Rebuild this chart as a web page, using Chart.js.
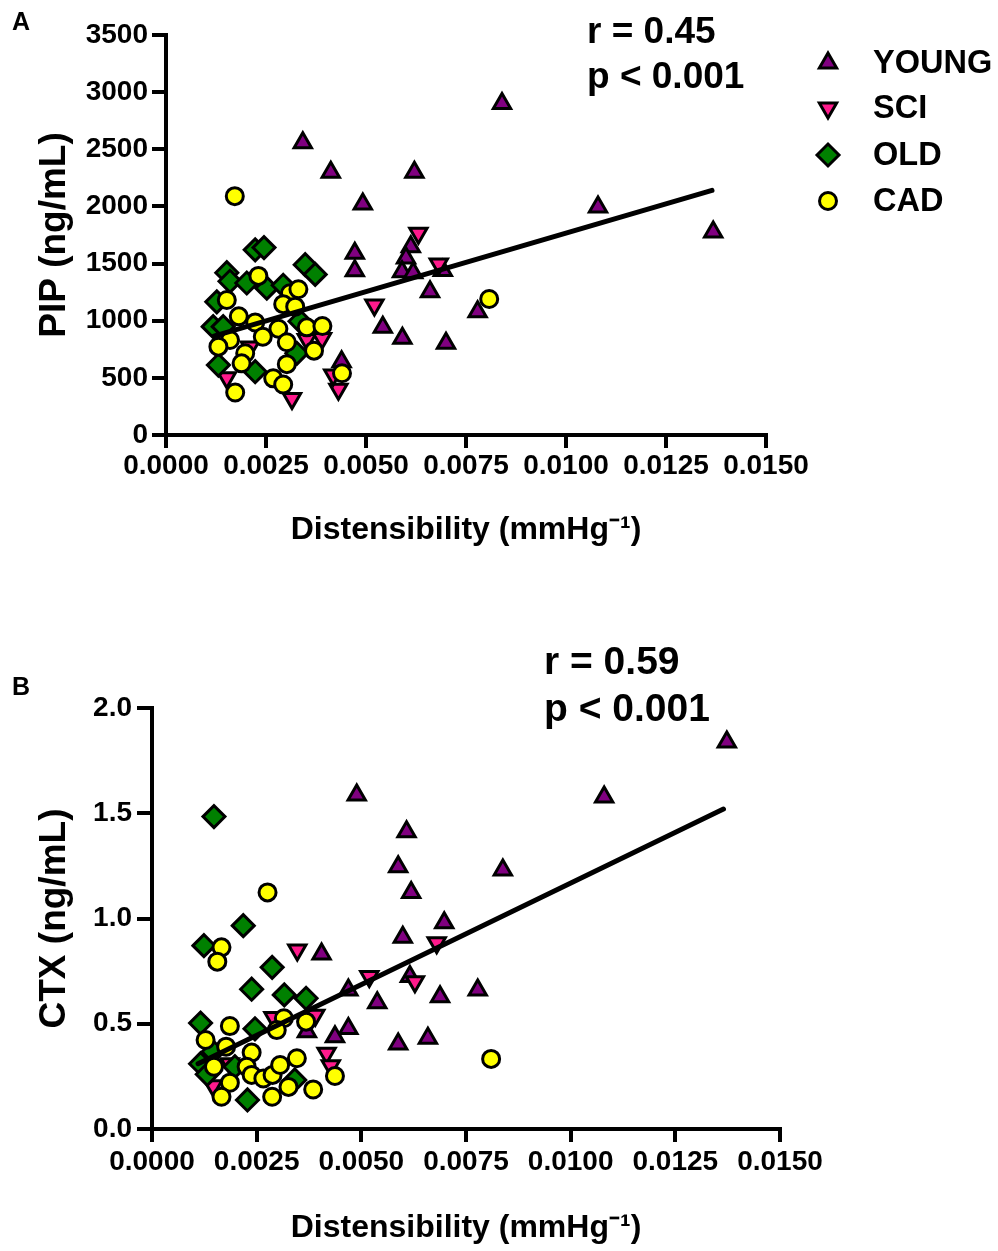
<!DOCTYPE html>
<html><head><meta charset="utf-8">
<script src="https://cdn.jsdelivr.net/npm/chart.js@4.4.1/dist/chart.umd.min.js"></script>
<style>
html,body{margin:0;padding:0;background:#fff;}
#wrap{position:relative;width:998px;height:1251px;overflow:hidden;background:#fff;}
canvas{position:absolute;left:0;}
#cA{top:0;}
#cB{top:620px;}
</style></head><body>
<div id="wrap"><canvas id="cA" width="998" height="600"></canvas><canvas id="cB" width="998" height="631"></canvas></div>
<script>
// ---------------- DATA ----------------
const groupNames = ['YOUNG', 'SCI', 'OLD', 'CAD'];
const distTicks = [0, 0.0025, 0.005, 0.0075, 0.01, 0.0125, 0.015];
const pipTicks = [0, 500, 1000, 1500, 2000, 2500, 3000, 3500];
const ctxTicks = [0, 0.5, 1.0, 1.5, 2.0];
const xTitleText = 'Distensibility (mmHg\u207B\u00B9)';
const pipTitleText = 'PIP (ng/mL)';
const ctxTitleText = 'CTX (ng/mL)';
const statsA = ['r = 0.45', 'p < 0.001'];
const statsB = ['r = 0.59', 'p < 0.001'];

// Panel A: [distensibility, PIP]
const pipYoung = [[0.00342,2558],[0.00412,2299],[0.00492,2021],[0.00621,2299],[0.0084,2900],[0.0108,1995],[0.01368,1776],[0.00472,1590],[0.00472,1438],[0.00612,1648],[0.0060,1549],[0.0059,1429],[0.00618,1420],[0.00692,1440],[0.0066,1254],[0.00779,1079],[0.00542,942],[0.00591,846],[0.0070,802],[0.00439,640]];
const pipSci = [[0.00631,1765],[0.00682,1496],[0.00521,1137],[0.00431,400],[0.00418,525],[0.00315,320],[0.00352,835],[0.0039,845],[0.00152,500],[0.0021,770]];
const pipOld = [[0.00223,1620],[0.00245,1640],[0.00152,1420],[0.0016,1345],[0.00202,1330],[0.00252,1285],[0.00293,1310],[0.00348,1490],[0.00373,1405],[0.00127,1165],[0.00118,948],[0.00143,948],[0.00335,995],[0.00131,612],[0.00223,554],[0.00327,715]];
const pipCad = [[0.00172,2090],[0.00808,1190],[0.00231,1392],[0.00152,1181],[0.0031,1240],[0.00331,1275],[0.00293,1145],[0.00323,1123],[0.00182,1038],[0.00223,985],[0.00281,930],[0.00352,942],[0.00391,954],[0.0016,831],[0.00131,773],[0.00242,860],[0.00302,812],[0.0037,738],[0.00198,715],[0.00189,627],[0.00302,620],[0.00268,496],[0.00293,442],[0.00173,372],[0.0044,540]];
const pipFit = [[0.0012,865],[0.01365,2140]];

// Panel B: [distensibility, CTX]
const ctxYoung = [[0.01373,1.838],[0.0108,1.577],[0.00489,1.587],[0.00608,1.412],[0.00588,1.246],[0.00619,1.123],[0.00838,1.23],[0.00698,0.98],[0.00599,0.911],[0.00405,0.831],[0.00469,0.66],[0.00538,0.60],[0.00688,0.628],[0.00778,0.66],[0.00588,0.404],[0.00659,0.431],[0.00469,0.478],[0.00437,0.438],[0.00616,0.724],[0.0037,0.462]];
const ctxSci = [[0.0068,0.885],[0.00519,0.724],[0.00628,0.70],[0.00347,0.85],[0.00417,0.36],[0.00427,0.30],[0.0029,0.53],[0.0039,0.54],[0.00146,0.205],[0.00186,0.31]];
const ctxOld = [[0.00148,1.484],[0.00218,0.966],[0.00124,0.871],[0.00287,0.768],[0.00238,0.664],[0.00316,0.637],[0.00368,0.621],[0.00116,0.503],[0.00246,0.476],[0.00228,0.138],[0.00116,0.31],[0.00132,0.26],[0.00341,0.233],[0.00146,0.367],[0.00198,0.296]];
const ctxCad = [[0.0081,0.333],[0.00276,1.124],[0.00166,0.863],[0.00156,0.795],[0.00186,0.489],[0.00128,0.423],[0.00177,0.391],[0.00238,0.363],[0.00148,0.296],[0.00186,0.22],[0.00166,0.153],[0.00226,0.296],[0.00238,0.257],[0.00266,0.24],[0.00288,0.257],[0.00306,0.304],[0.00346,0.336],[0.00326,0.2],[0.00287,0.153],[0.00385,0.188],[0.00437,0.252],[0.00315,0.526],[0.00298,0.47],[0.00368,0.51]];
const ctxFit = [[0.0011,0.31],[0.01365,1.52]];

// ---------------- STYLE ----------------
const FONT = "'Liberation Sans', Arial, Helvetica, sans-serif";
const groupStyles = [
  {pointStyle:'triangle', rotation:0,   radius:10,  color:'#800080'},
  {pointStyle:'triangle', rotation:180, radius:10,  color:'#FF1A8C'},
  {pointStyle:'rectRot',  rotation:0,   radius:11, color:'#008000'},
  {pointStyle:'circle',   rotation:0,   radius:8.5,  color:'#FFFF00'}
];
const MARKER_BORDER = 3;

const toXY = arr => arr.map(p => ({x: p[0], y: p[1]}));

function drawMarker(ctx, st, x, y) {
  ctx.save();
  ctx.fillStyle = st.color;
  ctx.strokeStyle = '#000';
  ctx.lineWidth = MARKER_BORDER;
  if (Chart.helpers && Chart.helpers.drawPoint) {
    Chart.helpers.drawPoint(ctx, {pointStyle: st.pointStyle, radius: st.radius, rotation: st.rotation, borderWidth: MARKER_BORDER}, x, y);
  }
  ctx.restore();
}

const decoPlugin = {
  id: 'deco',
  afterDraw(chart, args, opts) {
    const ctx = chart.ctx;
    ctx.save();
    ctx.fillStyle = '#000';
    ctx.textAlign = 'left';
    ctx.textBaseline = 'alphabetic';
    ctx.font = `bold ${opts.letterSize}px ${FONT}`;
    ctx.fillText(opts.letter, opts.letterX, opts.letterY);
    ctx.font = `bold ${opts.statSize}px ${FONT}`;
    opts.stats.forEach((t, i) => ctx.fillText(t, opts.statX, opts.statY[i]));
    if (opts.legend) {
      const L = opts.legend;
      ctx.font = `bold ${L.size}px ${FONT}`;
      groupNames.forEach((name, i) => {
        const y = L.rows[i];
        drawMarker(ctx, groupStyles[i], L.markerX, y);
        ctx.fillStyle = '#000';
        ctx.textBaseline = 'middle';
        ctx.fillText(name, L.textX, y + 1);
      });
    }
    ctx.restore();
  }
};

function makeChart(el, o) {
  const H = el.height, W = el.width;
  const xlh = o.xTitleSize * 1.2;
  const xScaleBottom = o.xTitleY + xlh / 2;
  const padBottom = H - xScaleBottom;
  const xH = xScaleBottom - o.area.bottom;
  const tickFont = {family: FONT, size: o.tickSize, weight: 'bold'};
  const datasets = [{
    type: 'line', label: 'fit', data: toXY(o.fit),
    borderColor: '#000', borderWidth: 5, pointRadius: 0, fill: false,
    borderCapStyle: 'round', order: 0, clip: false, showLine: true
  }];
  o.groups.forEach((g, i) => {
    const st = groupStyles[i];
    datasets.push({
      type: 'scatter', label: groupNames[i], data: toXY(g),
      pointStyle: st.pointStyle, pointRotation: st.rotation, pointRadius: st.radius,
      pointHoverRadius: st.radius,
      pointBackgroundColor: st.color, pointBorderColor: '#000', pointBorderWidth: MARKER_BORDER,
      showLine: false, clip: false, order: 5 - i
    });
  });
  return new Chart(el, {
    type: 'scatter',
    data: {datasets},
    options: {
      responsive: false, animation: false, devicePixelRatio: 1,
      layout: {padding: {left: 0, top: o.area.top, right: W - o.area.right, bottom: padBottom}},
      scales: {
        x: {
          type: 'linear', min: distTicks[0], max: distTicks[distTicks.length - 1],
          afterFit: s => { s.height = xH; },
          afterBuildTicks: s => { s.ticks = distTicks.map(v => ({value: v})); },
          grid: {drawOnChartArea: false, drawTicks: true, tickLength: o.xTickLen, tickWidth: 4, lineWidth: 4, tickColor: '#000', color: '#000'},
          border: {display: true, width: 4, color: '#000'},
          ticks: {padding: o.xTickPad, color: '#000', font: tickFont, maxRotation: 0, autoSkip: false, callback: v => Number(v).toFixed(4)},
          title: {display: true, text: xTitleText, color: '#000', font: {family: FONT, size: o.xTitleSize, weight: 'bold'}, padding: 0}
        },
        y: {
          type: 'linear', min: o.yTicks[0], max: o.yTicks[o.yTicks.length - 1],
          afterFit: s => { s.width = o.area.left; },
          afterBuildTicks: s => { s.ticks = o.yTicks.map(v => ({value: v})); },
          grid: {drawOnChartArea: false, drawTicks: true, tickLength: o.yTickLen, tickWidth: 4, lineWidth: 4, tickColor: '#000', color: '#000'},
          border: {display: true, width: 4, color: '#000'},
          ticks: {padding: o.yTickPad, color: '#000', font: tickFont, autoSkip: false, callback: v => Number(v).toFixed(o.yDec)},
          title: {display: true, text: o.yTitle, color: '#000', font: {family: FONT, size: o.yTitleSize, weight: 'bold'}, padding: o.yTitlePad}
        }
      },
      plugins: {legend: {display: false}, tooltip: {enabled: false}, deco: o.deco}
    },
    plugins: [decoPlugin]
  });
}

makeChart(document.getElementById('cA'), {
  area: {left: 166, right: 766, top: 35, bottom: 435},
  xTitleY: 530, xTitleSize: 32, tickSize: 28,
  xTickLen: 13, xTickPad: 1, yTickLen: 14, yTickPad: 4,
  yTicks: pipTicks, yDec: 0, yTitle: pipTitleText, yTitleSize: 37, yTitlePad: 33,
  groups: [pipYoung, pipSci, pipOld, pipCad], fit: pipFit,
  deco: {letter: 'A', letterSize: 25, letterX: 12, letterY: 30,
         stats: statsA, statSize: 37, statX: 587, statY: [43, 88],
         legend: {size: 32.5, markerX: 828, textX: 873, rows: [63, 108, 155, 201]}}
});

makeChart(document.getElementById('cB'), {
  area: {left: 152, right: 780, top: 88, bottom: 509},
  xTitleY: 608, xTitleSize: 32, tickSize: 28,
  xTickLen: 13, xTickPad: 3, yTickLen: 15, yTickPad: 5,
  yTicks: ctxTicks, yDec: 1, yTitle: ctxTitleText, yTitleSize: 37, yTitlePad: 33,
  groups: [ctxYoung, ctxSci, ctxOld, ctxCad], fit: ctxFit,
  deco: {letter: 'B', letterSize: 25, letterX: 12, letterY: 75,
         stats: statsB, statSize: 39, statX: 544, statY: [54, 101]}
});
</script>
</body></html>
